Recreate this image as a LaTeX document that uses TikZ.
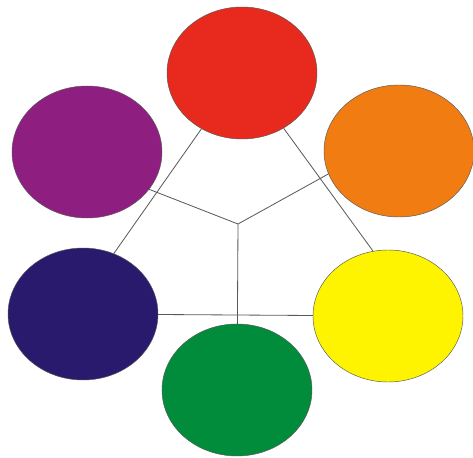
\documentclass[tikz,border=0pt]{standalone}
\usepackage{xcolor}
\usepackage{tikz}
\usetikzlibrary{shapes.geometric}

\definecolor{wheelred}{RGB}{232,42,30}
\definecolor{wheelorange}{RGB}{240,124,18}
\definecolor{wheelyellow}{RGB}{255,244,0}
\definecolor{wheelgreen}{RGB}{0,140,58}
\definecolor{wheelnavy}{RGB}{42,26,110}
\definecolor{wheelpurple}{RGB}{142,30,128}

\begin{document}
\begin{tikzpicture}[x=0.03cm, y=-0.03cm,
      blob/.style={draw=gray!70!black, line width=0.4pt, ellipse, minimum width=4.5cm, minimum height=3.96cm, inner sep=0pt},
      link/.style={draw=gray!70!black, line width=0.7pt}]
      \useasboundingbox (0,0) rectangle (473,458);
      \coordinate (hub) at (238,224);
      \node[blob, fill=wheelred]    (red)    at (242,73)  {};
      \node[blob, fill=wheelorange] (orange) at (399,151) {};
      \node[blob, fill=wheelpurple] (purple) at (87,152)  {};
      \node[blob, fill=wheelnavy]   (navy)   at (83,314)  {};
      \node[blob, fill=wheelyellow] (yellow) at (388,316) {};
      \node[blob, fill=wheelgreen]  (green)  at (237,390) {};
      \draw[link] (red.234) -- (navy.63);
      \draw[link] (red.-53) -- (yellow.103);
      \draw[link] (navy) -- (yellow);
      \draw[link] (purple.-31) -- (hub) -- (orange.198);
      \draw[link] (hub) -- (green);
    \end{tikzpicture}
\end{document}
